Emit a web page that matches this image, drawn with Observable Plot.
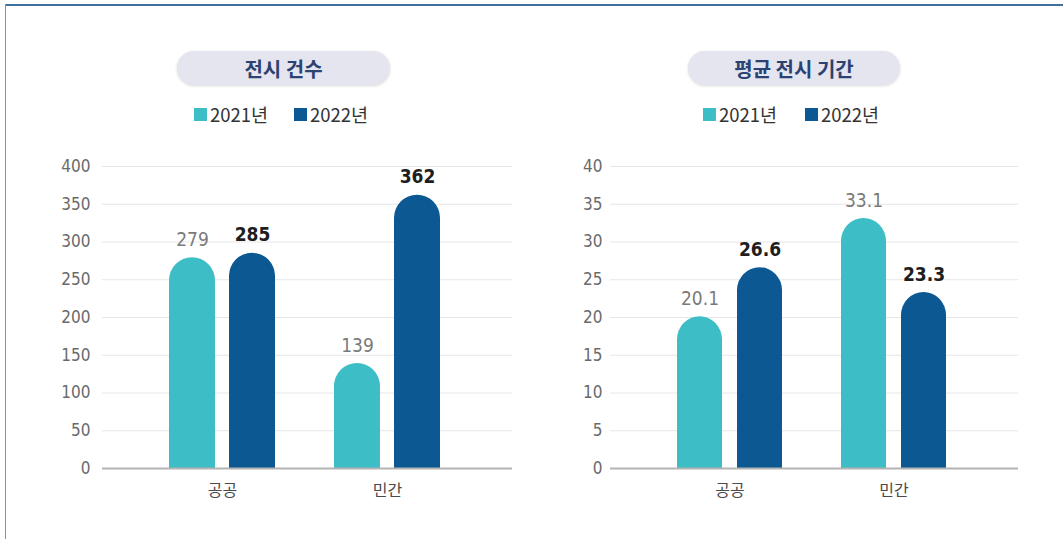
<!DOCTYPE html>
<html><head><meta charset="utf-8">
<script src="https://cdn.jsdelivr.net/npm/d3@7"></script>
<script src="https://cdn.jsdelivr.net/npm/@observablehq/plot@0.6"></script>
<style>
body{margin:0;background:#fff;}
#wrap{position:relative;width:1063px;height:539px;overflow:hidden;background:#fff;}
.frame-top{position:absolute;left:5px;top:4px;width:1058px;height:2px;background:#3f6f9f;}
.frame-left{position:absolute;left:5px;top:4px;width:1px;height:535px;background:#7497bb;}
.pill{position:absolute;height:34px;border-radius:17px;background:#e4e5ee;box-shadow:0 1px 3px rgba(0,0,0,0.15);font:bold 20px "Noto Sans CJK KR";color:#2c4272;display:flex;align-items:center;justify-content:center;}
.leg{position:absolute;display:flex;align-items:center;font:18.5px "Noto Sans CJK KR";color:#333;height:20px;line-height:20px;}
.sw{width:13px;height:13px;margin-right:3px;display:inline-block}
.chart{position:absolute;top:150px;}
</style></head>
<body>
<div id="wrap">
  <div class="frame-top"></div>
  <div class="frame-left"></div>
  <div id="left" class="chart" style="left:0px"></div>
  <div id="right" class="chart" style="left:530px"></div>
</div>
<script>
const categories = ["공공", "민간"];
const years = ["2021년", "2022년"];
const counts2021 = [279, 139];
const counts2022 = [285, 362];
const durations2021 = [20.1, 33.1];
const durations2022 = [26.6, 23.3];
const countTicks = [0, 50, 100, 150, 200, 250, 300, 350, 400];
const durationTicks = [0, 5, 10, 15, 20, 25, 30, 35, 40];
const titles = ["전시 건수", "평균 전시 기간"];
const colors = ["#3dbdc6", "#0b5893"];

const numFont = '"Liberation Sans Narrow", "DejaVu Sans Condensed", sans-serif';
const krFont = '"Noto Sans CJK KR", sans-serif';

function makeChart(opts) {
  const d21 = categories.map((c, i) => ({cat: c, v: opts.v21[i]}));
  const d22 = categories.map((c, i) => ({cat: c, v: opts.v22[i]}));
  const inset = 60;
  return Plot.plot({
    width: opts.width,
    height: 360,
    marginTop: 16,
    marginBottom: 42,
    marginLeft: opts.marginLeft,
    marginRight: opts.marginRight,
    style: {background: "transparent", overflow: "visible"},
    x: {domain: categories, paddingInner: 0.36, paddingOuter: 0.42, align: 0.48, axis: null},
    y: {domain: [0, opts.ticks[opts.ticks.length - 1]], axis: null},
    marks: [
      Plot.gridY(opts.ticks, {stroke: "#e6e6e6", strokeOpacity: 1}),
      Plot.axisY(opts.ticks, {tickSize: 0, tickPadding: opts.tickPadding, fontSize: 17, fill: "#6a6a6a", fontFamily: numFont, label: null}),
      Plot.barY(d21, {x: "cat", y: "v", fill: colors[0], rx: 23, insetRight: inset}),
      Plot.barY(d21, {x: "cat", y: d => d.v / 2, fill: colors[0], insetRight: inset}),
      Plot.barY(d22, {x: "cat", y: "v", fill: colors[1], rx: 23, insetLeft: inset}),
      Plot.barY(d22, {x: "cat", y: d => d.v / 2, fill: colors[1], insetLeft: inset}),
      Plot.ruleY([0], {stroke: "#b4b4b4", strokeWidth: 2}),
      Plot.axisX(categories, {tickSize: 0, tickPadding: 16, fontSize: 16, fill: "#4a4a4a", fontFamily: krFont, label: null}),
      Plot.text(d21, {x: "cat", y: "v", text: d => String(d.v), dx: -30, dy: -18, fontSize: 19, fill: "#7a7a7a", fontFamily: numFont}),
      Plot.text(d22, {x: "cat", y: "v", text: d => String(d.v), dx: 30, dy: -18, fontSize: 19, fontWeight: "bold", fill: "#1e1e1e", fontFamily: numFont})
    ]
  });
}

document.getElementById("left").append(makeChart({
  width: 530, marginLeft: 102, marginRight: 18, ticks: countTicks,
  v21: counts2021, v22: counts2022, tickPadding: 12
}));
document.getElementById("right").append(makeChart({
  width: 533, marginLeft: 80, marginRight: 45, ticks: durationTicks,
  v21: durations2021, v22: durations2022, tickPadding: 8
}));

// titles and legends
const wrap = document.getElementById("wrap");
const pillPos = [{left: 177, width: 213}, {left: 688, width: 212}];
const legPos = [[194, 294], [703, 805]];
titles.forEach((t, i) => {
  const p = document.createElement("div");
  p.className = "pill";
  p.style.left = pillPos[i].left + "px";
  p.style.top = "51px";
  p.style.width = pillPos[i].width + "px";
  p.textContent = t;
  wrap.append(p);
  years.forEach((y, j) => {
    const l = document.createElement("div");
    l.className = "leg";
    l.style.left = legPos[i][j] + "px";
    l.style.top = "104px";
    const sw = document.createElement("span");
    sw.className = "sw";
    sw.style.background = colors[j];
    l.append(sw);
    l.append(document.createTextNode(y));
    wrap.append(l);
  });
});
</script>
</body></html>
